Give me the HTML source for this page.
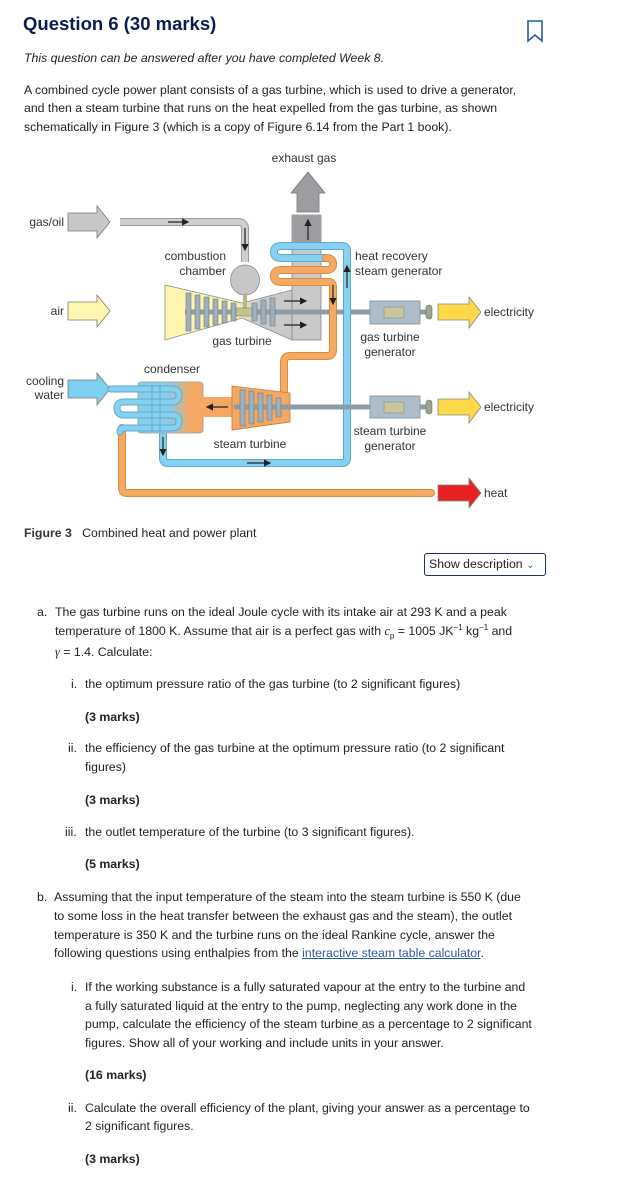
<!DOCTYPE html>
<html><head><meta charset="utf-8">
<style>
body{margin:0;background:#fff;width:629px;height:1193px;position:relative;overflow:hidden;font-family:"Liberation Sans",Arial,sans-serif;color:#222;}
.t{position:absolute;white-space:nowrap;font-size:12.3px;line-height:16px;}
.b{font-weight:bold;}
sub,sup{line-height:0;font-size:8px;}
svg{position:absolute;left:0;top:0;}
</style></head><body>
<div class="t b" style="left:23px;top:12px;font-size:18.5px;line-height:24px;color:#0d1b4c">Question 6 (30 marks)</div>
<svg width="629" height="60" style="top:0"><path d="M528 21 V41 L535 35 L542 41 V21 Z" fill="none" stroke="#2b5a9e" stroke-width="1.6"/></svg>
<div class="t" style="left:24px;top:50px;font-style:italic">This question can be answered after you have completed Week 8.</div>
<div class="t" style="left:24px;top:82px">A combined cycle power plant consists of a gas turbine, which is used to drive a generator,</div>
<div class="t" style="left:24px;top:100px">and then a steam turbine that runs on the heat expelled from the gas turbine, as shown</div>
<div class="t" style="left:24px;top:119px">schematically in Figure 3 (which is a copy of Figure 6.14 from the Part 1 book).</div>

<svg width="629" height="530" viewBox="0 0 629 530" style="font-family:'Liberation Sans',Arial,sans-serif;font-size:12px" >
<defs>
<linearGradient id="cg" x1="0" x2="1"><stop offset="0.45" stop-color="#86cdee"/><stop offset="0.8" stop-color="#f4a862"/></linearGradient>
<linearGradient id="tg" x1="0" x2="1"><stop offset="0.55" stop-color="#fff4ae"/><stop offset="0.75" stop-color="#c9c9c9"/></linearGradient>
<marker id="ah" markerWidth="6" markerHeight="6" refX="5" refY="3" orient="auto"><path d="M0 0 L6 3 L0 6 Z" fill="#222"/></marker>
</defs>
<text x="304" y="162" text-anchor="middle" fill="#333">exhaust gas</text>
<path d="M68 213 H97 V206 L110 222 L97 238 V231 H68 Z" fill="#c8c8c8" stroke="#777" stroke-width="0.8"/>
<path d="M68 302 H97 V295 L110 311 L97 327 V320 H68 Z" fill="#fff6b0" stroke="#777" stroke-width="0.8"/>
<path d="M68 380 H97 V373 L110 389 L97 405 V398 H68 Z" fill="#7ecff0" stroke="#777" stroke-width="0.8"/>
<text x="64" y="226" text-anchor="end" fill="#333">gas/oil</text>
<text x="64" y="315" text-anchor="end" fill="#333">air</text>
<text x="64" y="385" text-anchor="end" fill="#333">cooling</text>
<text x="64" y="399" text-anchor="end" fill="#333">water</text>
<path d="M297 212 V193 H291 L308 172 L325 193 H319 V212 Z" fill="#9d9da1" stroke="#777" stroke-width="0.8"/>
<rect x="292" y="215" width="29" height="125" fill="#c9c9c9" stroke="#888" stroke-width="0.8"/>
<rect x="292" y="215" width="29" height="30" fill="#9d9da1"/>
<path d="M120 222 H238 Q245 222 245 229 V262" fill="none" stroke="#999" stroke-width="8"/>
<path d="M120 222 H238 Q245 222 245 229 V262" fill="none" stroke="#cfcfcf" stroke-width="6"/>
<ellipse cx="245" cy="280" rx="14.5" ry="15" fill="#c8c8c8" stroke="#888" stroke-width="0.8"/>
<path d="M165 285 L242 303 L292 290 V340 L242 318 L165 340 Z" fill="url(#tg)" stroke="#888" stroke-width="0.8"/>
<rect x="243" y="293" width="4" height="16" fill="#b8b68a"/>
<line x1="185" y1="312" x2="432" y2="312" stroke="#8e9ba5" stroke-width="5"/>
<g fill="#9fb0bc" stroke="#6c7c88" stroke-width="0.6">
<rect x="186" y="293" width="5" height="38"/><rect x="195" y="295" width="5" height="34"/><rect x="204" y="297" width="5" height="30"/><rect x="213" y="299" width="5" height="26"/><rect x="222" y="301" width="5" height="22"/><rect x="231" y="303" width="5" height="18"/>
<rect x="252" y="303" width="5" height="18"/><rect x="261" y="300" width="5" height="24"/><rect x="270" y="298" width="5" height="28"/>
<rect x="236" y="308" width="16" height="8" fill="#c5c28a"/>
</g>
<g fill="none" stroke-linejoin="round" stroke-linecap="round">
<path d="M163 433 V458 Q163 463 168 463 H342 Q347 463 347 458 V251 Q347 246 342 246 H281 Q274 246 274 252 Q274 258 281 258 H326" stroke="#5fa9c8" stroke-width="8"/>
<path d="M163 433 V458 Q163 463 168 463 H342 Q347 463 347 458 V251 Q347 246 342 246 H281 Q274 246 274 252 Q274 258 281 258 H326" stroke="#86d1f1" stroke-width="6"/>
<path d="M326 258 Q333 258 333 264 Q333 270 326 270 H281 Q274 270 274 276 Q274 282 281 282 H329 Q333 282 333 287 V350 Q333 356 327 356 H290 Q284 356 284 362 V396" stroke="#d98a45" stroke-width="8"/>
<path d="M326 258 Q333 258 333 264 Q333 270 326 270 H281 Q274 270 274 276 Q274 282 281 282 H329 Q333 282 333 287 V350 Q333 356 327 356 H290 Q284 356 284 362 V396" stroke="#f5aa62" stroke-width="6"/>
<path d="M122 428 V488 Q122 493 127 493 H431" stroke="#d98a45" stroke-width="8"/>
<path d="M122 428 V488 Q122 493 127 493 H431" stroke="#f5aa62" stroke-width="6"/>
</g>
<rect x="138" y="382" width="65" height="51" rx="3" fill="url(#cg)" stroke="#999" stroke-width="0.8"/>
<rect x="202" y="397" width="32" height="20" fill="#f4a862"/>
<g fill="none" stroke-linecap="round">
<path d="M111 389 H172 Q179 389 179 395 Q179 402 172 402 H124 Q117 402 117 408 Q117 415 124 415 H172 Q179 415 179 421 Q179 428 172 428 H124 Q120 428 120 432" stroke="#5fa9c8" stroke-width="7"/>
<path d="M111 389 H172 Q179 389 179 395 Q179 402 172 402 H124 Q117 402 117 408 Q117 415 124 415 H172 Q179 415 179 421 Q179 428 172 428 H124 Q120 428 120 432" stroke="#86d1f1" stroke-width="5"/>
</g>
<line x1="152" y1="385" x2="152" y2="432" stroke="#5fa9c8" stroke-width="1"/>
<line x1="160" y1="385" x2="160" y2="432" stroke="#5fa9c8" stroke-width="1"/>
<path d="M232 386 L290 393 V422 L232 430 Z" fill="#f4a862" stroke="#c07a3c" stroke-width="0.8"/>
<line x1="234" y1="407" x2="432" y2="407" stroke="#8e9ba5" stroke-width="5"/>
<g fill="#9fb0bc" stroke="#6c7c88" stroke-width="0.6">
<rect x="240" y="390" width="5" height="36"/><rect x="249" y="391" width="5" height="33"/><rect x="258" y="393" width="5" height="29"/><rect x="267" y="395" width="5" height="25"/><rect x="276" y="398" width="5" height="19"/>
</g>
<g>
<rect x="370" y="301" width="50" height="23" fill="#aebdca" stroke="#7d8c98" stroke-width="0.8"/>
<rect x="384" y="307" width="20" height="11" fill="#c8c79a" stroke="#7d8c98" stroke-width="0.6"/>
<rect x="426" y="305" width="6" height="14" rx="3" fill="#9ea58e" stroke="#6d7560" stroke-width="0.6"/>
<rect x="370" y="396" width="50" height="22" fill="#aebdca" stroke="#7d8c98" stroke-width="0.8"/>
<rect x="384" y="402" width="20" height="11" fill="#c8c79a" stroke="#7d8c98" stroke-width="0.6"/>
<rect x="426" y="400" width="6" height="14" rx="3" fill="#9ea58e" stroke="#6d7560" stroke-width="0.6"/>
</g>
<path d="M438 304 H469 V297 L481 312 L469 328 V320 H438 Z" fill="#ffd94a" stroke="#888" stroke-width="0.8"/>
<path d="M438 399 H469 V392 L481 407 L469 423 V415 H438 Z" fill="#ffd94a" stroke="#888" stroke-width="0.8"/>
<path d="M438 485 H469 V478 L481 493 L469 508 V501 H438 Z" fill="#e82121" stroke="#888" stroke-width="0.8"/>
<g stroke="#222" stroke-width="1.2" marker-end="url(#ah)">
<line x1="168" y1="222" x2="188" y2="222"/>
<line x1="245" y1="228" x2="245" y2="250"/>
<line x1="308" y1="240" x2="308" y2="220"/>
<line x1="333" y1="285" x2="333" y2="304"/>
<line x1="347" y1="288" x2="347" y2="266"/>
<line x1="284" y1="301" x2="306" y2="301"/>
<line x1="284" y1="325" x2="306" y2="325"/>
<line x1="228" y1="407" x2="207" y2="407"/>
<line x1="247" y1="463" x2="270" y2="463"/>
<line x1="163" y1="437" x2="163" y2="455"/>
</g>
<g fill="#333">
<text x="226" y="260" text-anchor="end">combustion</text>
<text x="226" y="275" text-anchor="end">chamber</text>
<text x="355" y="260">heat recovery</text>
<text x="355" y="275">steam generator</text>
<text x="242" y="345" text-anchor="middle">gas turbine</text>
<text x="390" y="341" text-anchor="middle">gas turbine</text>
<text x="390" y="356" text-anchor="middle">generator</text>
<text x="484" y="316">electricity</text>
<text x="484" y="411">electricity</text>
<text x="172" y="373" text-anchor="middle">condenser</text>
<text x="250" y="448" text-anchor="middle">steam turbine</text>
<text x="390" y="435" text-anchor="middle">steam turbine</text>
<text x="390" y="450" text-anchor="middle">generator</text>
<text x="484" y="497">heat</text>
</g>
</svg>

<div class="t" style="left:24px;top:525px"><span class="b" style="color:#333">Figure 3</span>&nbsp;&nbsp;&nbsp;Combined heat and power plant</div>
<div style="position:absolute;left:424px;top:553px;width:122px;height:23px;border:1px solid #1d2f5e;border-radius:3px;box-sizing:border-box;font-size:12.3px;line-height:21px;padding-left:4px;white-space:nowrap">Show description <span style="color:#2b5a9e;font-size:10px">&#8964;</span></div>

<div class="t" style="left:37px;top:604px">a.</div>
<div class="t" style="left:55px;top:604px">The gas turbine runs on the ideal Joule cycle with its intake air at 293 K and a peak</div>
<div class="t" style="left:55px;top:623px">temperature of 1800 K. Assume that air is a perfect gas with <i style="font-family:'Liberation Serif',serif">c</i><sub>p</sub> = 1005 JK<sup>−1</sup> kg<sup>−1</sup> and</div>
<div class="t" style="left:55px;top:644px"><i style="font-family:'Liberation Serif',serif">γ</i> = 1.4. Calculate:</div>
<div class="t" style="left:71px;top:676px">i.</div>
<div class="t" style="left:85px;top:676px">the optimum pressure ratio of the gas turbine (to 2 significant figures)</div>
<div class="t b" style="left:85px;top:709px">(3 marks)</div>
<div class="t" style="left:68px;top:740px">ii.</div>
<div class="t" style="left:85px;top:740px">the efficiency of the gas turbine at the optimum pressure ratio (to 2 significant</div>
<div class="t" style="left:85px;top:759px">figures)</div>
<div class="t b" style="left:85px;top:792px">(3 marks)</div>
<div class="t" style="left:65px;top:824px">iii.</div>
<div class="t" style="left:85px;top:824px">the outlet temperature of the turbine (to 3 significant figures).</div>
<div class="t b" style="left:85px;top:856px">(5 marks)</div>
<div class="t" style="left:37px;top:889px">b.</div>
<div class="t" style="left:54px;top:889px">Assuming that the input temperature of the steam into the steam turbine is 550 K (due</div>
<div class="t" style="left:54px;top:908px">to some loss in the heat transfer between the exhaust gas and the steam), the outlet</div>
<div class="t" style="left:54px;top:927px">temperature is 350 K and the turbine runs on the ideal Rankine cycle, answer the</div>
<div class="t" style="left:54px;top:945px">following questions using enthalpies from the <span style="color:#2b5a9e;text-decoration:underline">interactive steam table calculator</span>.</div>
<div class="t" style="left:71px;top:979px">i.</div>
<div class="t" style="left:85px;top:979px">If the working substance is a fully saturated vapour at the entry to the turbine and</div>
<div class="t" style="left:85px;top:998px">a fully saturated liquid at the entry to the pump, neglecting any work done in the</div>
<div class="t" style="left:85px;top:1016px">pump, calculate the efficiency of the steam turbine as a percentage to 2 significant</div>
<div class="t" style="left:85px;top:1035px">figures. Show all of your working and include units in your answer.</div>
<div class="t b" style="left:85px;top:1067px">(16 marks)</div>
<div class="t" style="left:68px;top:1100px">ii.</div>
<div class="t" style="left:85px;top:1100px">Calculate the overall efficiency of the plant, giving your answer as a percentage to</div>
<div class="t" style="left:85px;top:1118px">2 significant figures.</div>
<div class="t b" style="left:85px;top:1151px">(3 marks)</div>
</body></html>
